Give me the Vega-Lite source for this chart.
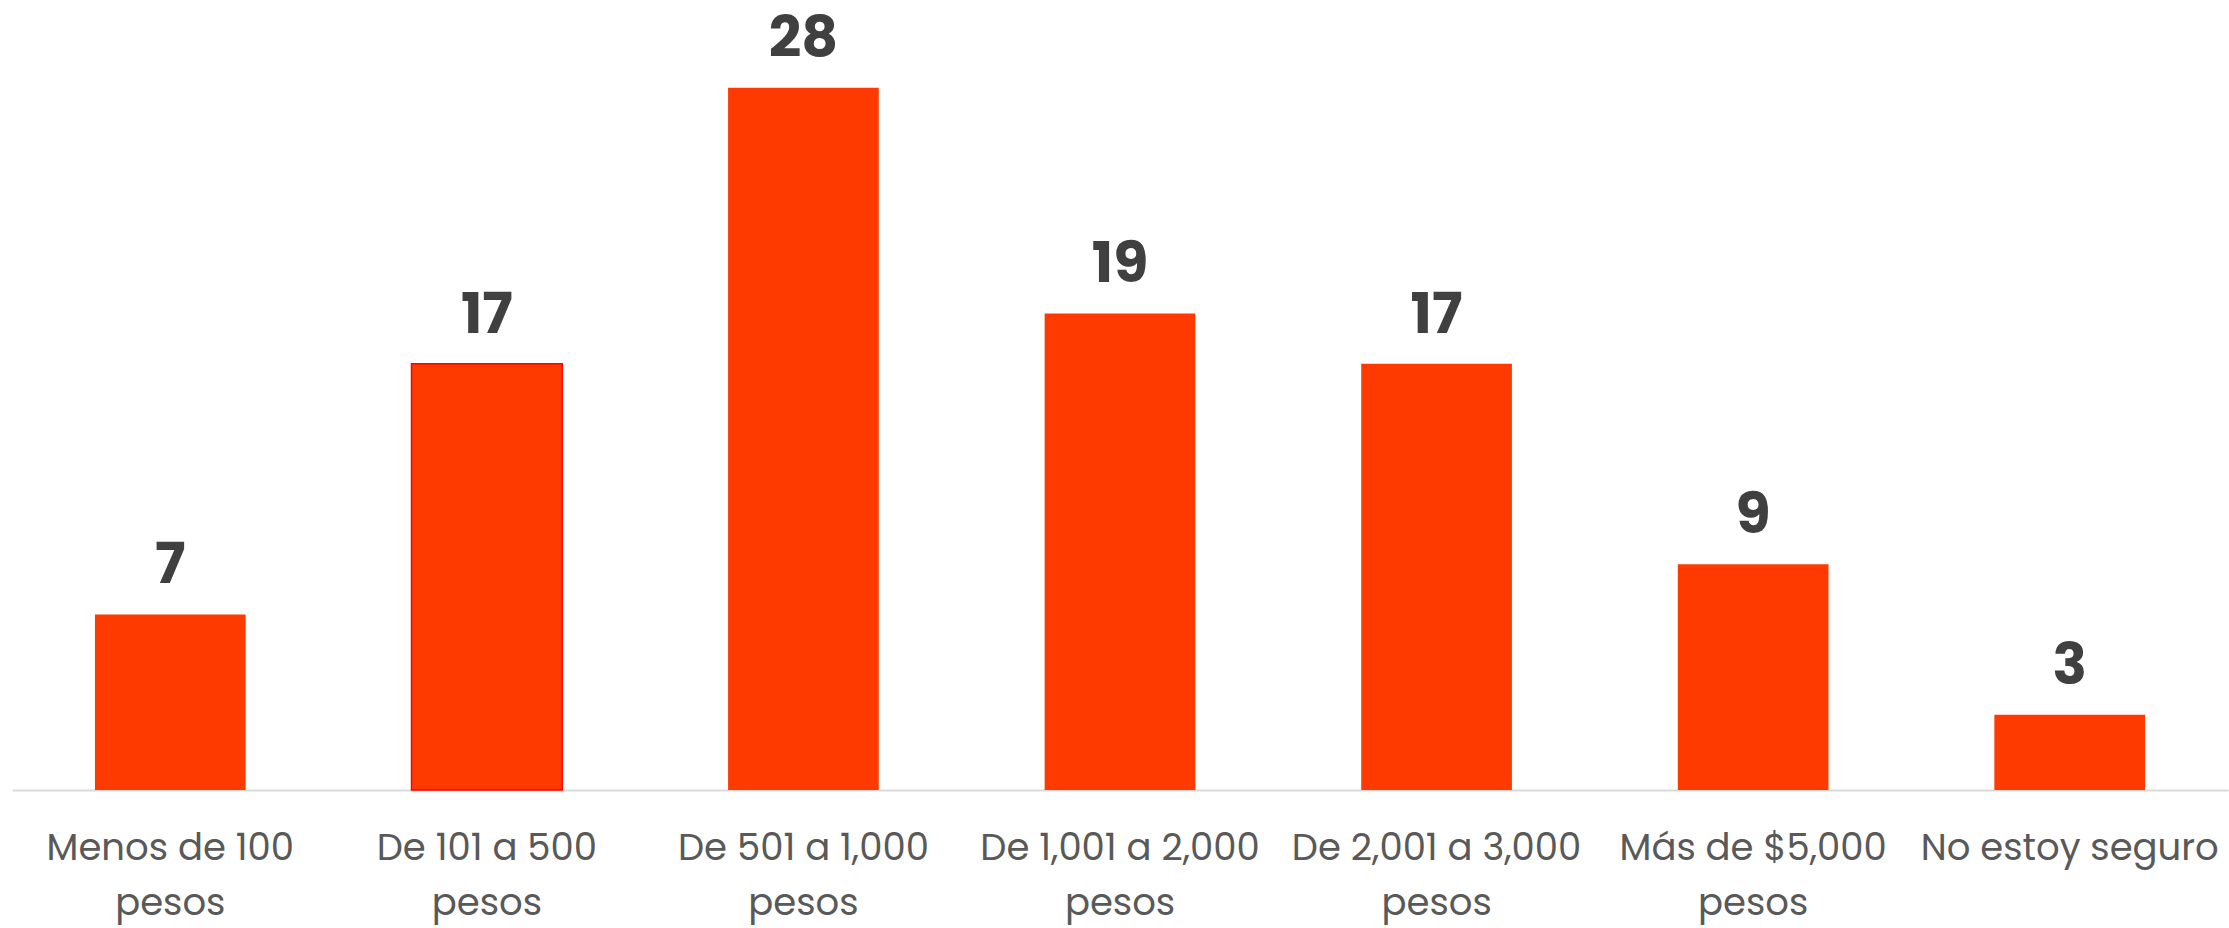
{
  "$schema": "https://vega.github.io/schema/vega-lite/v6.json",
  "width": 2216,
  "height": 790,
  "autosize": {"type": "none"},
  "padding": {"left": 12, "right": 1, "top": 0, "bottom": 138},
  "background": "white",
  "config": {"view": {"stroke": null}},
  "data": {
    "values": [
      {"cat": "Menos de 100 pesos", "value": 7},
      {"cat": "De 101 a 500 pesos", "value": 17},
      {"cat": "De 501 a 1,000 pesos", "value": 28},
      {"cat": "De 1,001 a 2,000 pesos", "value": 19},
      {"cat": "De 2,001 a 3,000 pesos", "value": 17},
      {"cat": "Más de $5,000 pesos", "value": 9},
      {"cat": "No estoy seguro", "value": 3}
    ]
  },
  "encoding": {
    "x": {
      "field": "cat",
      "type": "nominal",
      "sort": null,
      "scale": {"paddingInner": 0.524, "paddingOuter": 0.262},
      "axis": {
        "title": null,
        "labelAngle": 0,
        "ticks": false,
        "domainColor": "#D9D9D9",
        "domainWidth": 2,
        "labelFont": "Poppins, Open Sans",
        "labelFontSize": 37,
        "labelColor": "#595959",
        "labelPadding": 69,
        "labelLineHeight": 55,
        "labelLimit": 0,
        "labelOverlap": false,
        "labelBaseline": "alphabetic",
        "labelExpr": "indexof(datum.label, ' pesos') > 0 ? [replace(datum.label, ' pesos', ''), 'pesos'] : datum.label"
      }
    },
    "y": {
      "field": "value",
      "type": "quantitative",
      "scale": {"domain": [0, 31.5], "nice": false, "zero": true},
      "axis": null
    }
  },
  "layer": [
    {
      "mark": {"type": "bar", "color": "#FF3A00"},
      "encoding": {
        "stroke": {
          "condition": {"test": "datum.cat == 'De 101 a 500 pesos'", "value": "#FF0000"},
          "value": null
        },
        "strokeWidth": {"value": 1.5}
      }
    },
    {
      "mark": {
        "type": "text",
        "baseline": "alphabetic",
        "dy": -31,
        "font": "Poppins, Inter",
        "fontSize": 57,
        "fontWeight": "bold",
        "color": "#404040"
      },
      "encoding": {"text": {"field": "value", "type": "quantitative"}}
    }
  ]
}
